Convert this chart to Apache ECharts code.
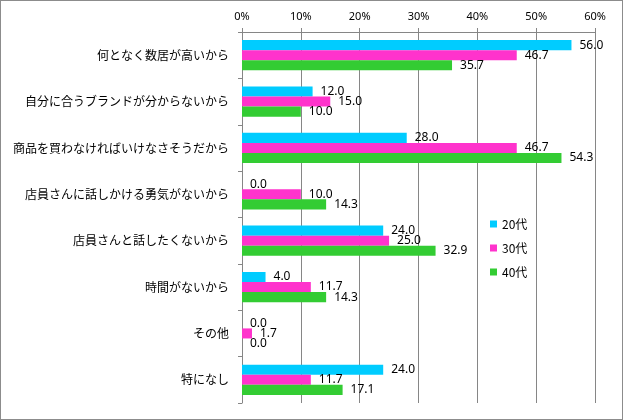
<!DOCTYPE html>
<html><head><meta charset="utf-8">
<script src="https://cdn.jsdelivr.net/npm/echarts@6/dist/echarts.min.js"></script>
<style>
html,body{margin:0;padding:0;background:#fff;}
#c{width:623px;height:420px;box-sizing:border-box;border:1px solid #8c8c8c;}
</style></head>
<body><div id="c"></div>
<script>
const categories = ['何となく数居が高いから','自分に合うブランドが分からないから','商品を買わなければいけなさそうだから','店員さんに話しかける勇気がないから','店員さんと話したくないから','時間がないから','その他','特になし'];
const seriesNames = ['20代','30代','40代'];
const s20 = [56.0,12.0,28.0,0.0,24.0,4.0,0.0,24.0];
const s30 = [46.7,15.0,46.7,10.0,25.0,11.7,1.7,11.7];
const s40 = [35.7,10.0,54.3,14.3,32.9,14.3,0.0,17.1];
const colors = ['#00CCFF','#FF33CC','#33CC33'];
const tickMin = 0, tickMax = 60, tickStep = 10;

const chart = echarts.init(document.getElementById('c'), null, {renderer:'canvas'});
const font = "'Noto Sans CJK JP', sans-serif";
const mk = (name, data, color) => ({
  name, type:'bar', data, barGap:'0%', barCategoryGap:'35%',
  itemStyle:{color},
  label:{show:true, position:'right', distance:8, formatter:p=>p.value.toFixed(1),
    color:'#000', fontSize:12, fontFamily:"'Noto Sans', sans-serif"},
  animation:false
});
chart.setOption({
  animation:false,
  textStyle:{fontFamily:font},
  grid:{left:241, right:27, top:31, bottom:16, containLabel:false},
  xAxis:{type:'value', position:'top', min:tickMin, max:tickMax, interval:tickStep,
    axisLabel:{formatter:'{value}%', color:'#000', fontSize:11, margin:10, fontFamily:"'Noto Sans', sans-serif"},
    axisLine:{show:true, lineStyle:{color:'#868686'}},
    axisTick:{show:true, length:4, lineStyle:{color:'#868686'}},
    splitLine:{show:true, lineStyle:{color:'#868686'}}},
  yAxis:{type:'category', data:categories, inverse:true,
    axisLabel:{color:'#000', fontSize:12, margin:13, fontFamily:font},
    axisLine:{show:true, lineStyle:{color:'#868686'}},
    axisTick:{show:true, length:4, lineStyle:{color:'#868686'}}},
  legend:{orient:'vertical', left:484, top:212, itemWidth:7, itemHeight:7, itemGap:12,
    icon:'rect', textStyle:{fontSize:12, color:'#000', fontFamily:font},
    data:seriesNames},
  series:[mk(seriesNames[0], s20, colors[0]), mk(seriesNames[1], s30, colors[1]), mk(seriesNames[2], s40, colors[2])]
});
</script></body></html>
